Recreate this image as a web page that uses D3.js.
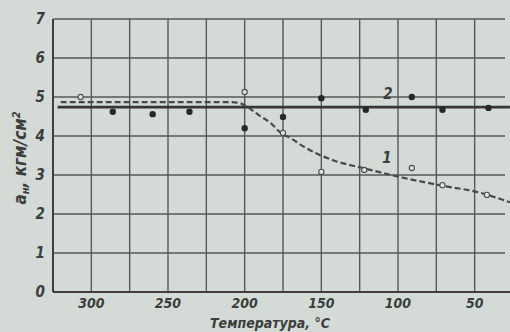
<!DOCTYPE html>
<html>
<head>
<meta charset="utf-8">
<script src="https://cdn.jsdelivr.net/npm/d3@7"></script>
<style>
  html, body { margin: 0; padding: 0; background: #d4dbd7; }
  svg { display: block; }
  .lbl { font-family: "Liberation Sans Narrow", "DejaVu Sans Condensed", sans-serif; font-style: italic; font-weight: bold; fill: #3b3e3d; }
</style>
</head>
<body>
<svg id="chart" width="510" height="332"></svg>
<script>
// Impact toughness vs temperature
const xTicks = [300, 250, 200, 150, 100, 50];
const xGrid = [300, 275, 250, 225, 200, 175, 150, 125, 100, 75, 50];
const yTicks = [0, 1, 2, 3, 4, 5, 6, 7];

// curve 1 (dashed) — smoothed trend
const curve1Temp = [320, 210, 203, 198, 191, 183, 177, 169, 162, 153, 141, 123, 99, 73, 46, 27];
const curve1Val  = [4.87, 4.87, 4.84, 4.74, 4.54, 4.33, 4.10, 3.92, 3.74, 3.55, 3.36, 3.18, 2.95, 2.74, 2.54, 2.30];
// curve 2 (solid) — constant level
const curve2Temp = [322, 27];
const curve2Val  = [4.74, 4.74];

// measured points, series 1 (open circles)
const open1Temp = [307, 200, 175, 150, 122, 91, 71, 42];
const open1Val  = [5.0, 5.13, 4.08, 3.08, 3.13, 3.18, 2.74, 2.49];
// measured points, series 2 (filled dots)
const fill2Temp = [286, 260, 236, 200, 175, 150, 121, 91, 71, 41];
const fill2Val  = [4.62, 4.56, 4.62, 4.2, 4.49, 4.97, 4.67, 5.0, 4.67, 4.72];

const svg = d3.select("#chart");
const ink = "#3d403f";
const plotL = 53, plotR = 513, plotT = 19, plotB = 292;

const x = d3.scaleLinear().domain([325, 25]).range([plotL, plotR]);
const y = d3.scaleLinear().domain([0, 7]).range([plotB, plotT]);

// grid
const g = svg.append("g");
g.selectAll("line.v").data(xGrid).join("line")
  .attr("x1", d => x(d)).attr("x2", d => x(d))
  .attr("y1", plotT).attr("y2", plotB)
  .attr("stroke", "#555958").attr("stroke-width", 1.4);
g.selectAll("line.h").data(yTicks.slice(1)).join("line")
  .attr("x1", plotL).attr("x2", 505)
  .attr("y1", d => y(d)).attr("y2", d => y(d))
  .attr("stroke", "#555958").attr("stroke-width", 1.4);
// frame
g.append("line").attr("x1", plotL).attr("x2", plotL).attr("y1", plotT).attr("y2", plotB)
  .attr("stroke", ink).attr("stroke-width", 2);
g.append("line").attr("x1", plotL).attr("x2", 510).attr("y1", plotB).attr("y2", plotB)
  .attr("stroke", ink).attr("stroke-width", 2);

// tick labels
svg.selectAll("text.yl").data(yTicks).join("text")
  .attr("class", "lbl").attr("x", 45).attr("y", d => y(d) + 5)
  .attr("text-anchor", "end").attr("font-size", 15).text(d => d);
svg.selectAll("text.xl").data(xTicks).join("text")
  .attr("class", "lbl").attr("x", d => x(d)).attr("y", 308)
  .attr("text-anchor", "middle").attr("font-size", 14).text(d => d);

// axis titles
svg.append("text").attr("class", "lbl").attr("x", 270).attr("y", 328)
  .attr("text-anchor", "middle").attr("font-size", 14).text("Температура, °C");
const yt = svg.append("text").attr("class", "lbl")
  .attr("transform", "translate(26,158) rotate(-90)")
  .attr("text-anchor", "middle").attr("font-size", 17);
yt.append("tspan").text("a");
yt.append("tspan").attr("font-size", 11).attr("dy", 3).text("н");
yt.append("tspan").attr("dy", -3).text(", кгм/см");
yt.append("tspan").attr("font-size", 11).attr("dy", -6).text("2");

// curves
const line = d3.line().x(d => x(d[0])).y(d => y(d[1])).curve(d3.curveMonotoneX);
svg.append("path")
  .datum(curve2Temp.map((t, i) => [t, curve2Val[i]]))
  .attr("d", line).attr("fill", "none").attr("stroke", "#333635").attr("stroke-width", 2.6);
svg.append("path")
  .datum(curve1Temp.map((t, i) => [t, curve1Val[i]]))
  .attr("d", line).attr("fill", "none").attr("stroke", "#474a49")
  .attr("stroke-width", 2.2).attr("stroke-dasharray", "6,3");

// points
svg.selectAll("circle.o").data(open1Temp.map((t, i) => [t, open1Val[i]])).join("circle")
  .attr("cx", d => x(d[0])).attr("cy", d => y(d[1])).attr("r", 2.6)
  .attr("fill", "#dfe4e1").attr("stroke", "#4a4d4c").attr("stroke-width", 1.1);
svg.selectAll("circle.f").data(fill2Temp.map((t, i) => [t, fill2Val[i]])).join("circle")
  .attr("cx", d => x(d[0])).attr("cy", d => y(d[1])).attr("r", 3.2)
  .attr("fill", "#262827");

// curve labels
svg.append("text").attr("class", "lbl").attr("x", 388).attr("y", 99)
  .attr("text-anchor", "middle").attr("font-size", 15).text("2");
svg.append("text").attr("class", "lbl").attr("x", 387).attr("y", 163)
  .attr("text-anchor", "middle").attr("font-size", 15).text("1");
</script>
</body>
</html>
